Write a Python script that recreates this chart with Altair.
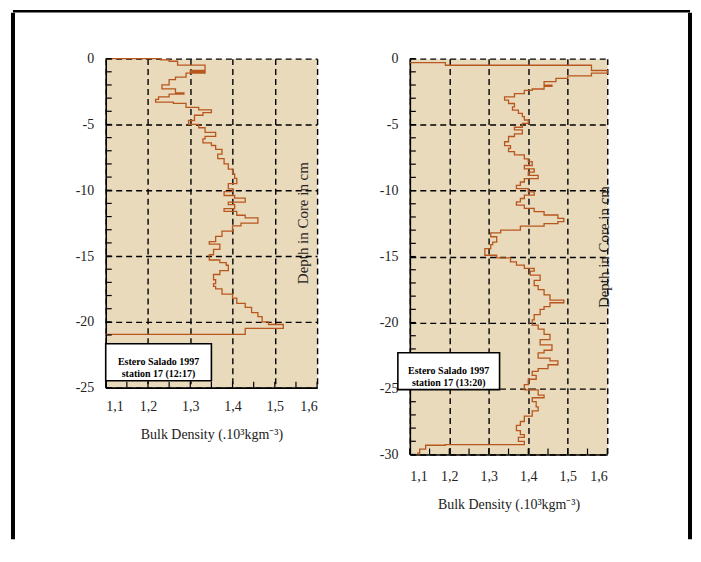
import altair as alt
import pandas as pd

# ---------------- data ----------------
# Left core: Estero Salado 1997, station 17 (12:17)
left_depth = [0.0, -0.1, -0.2, -0.5, -0.9, -1.0, -1.1, -1.4, -1.6, -2.0,
              -2.3, -2.6, -2.7, -2.9, -3.1, -3.3, -3.4, -3.7, -3.9, -4.1,
              -4.3, -4.7, -5.0, -5.25, -5.6, -5.9, -6.1, -6.4, -6.6, -6.9,
              -7.25, -7.6, -8.0, -8.4, -8.75, -9.1, -9.5, -9.9, -10.1, -10.4,
              -10.6, -10.9, -11.1, -11.4, -11.6, -11.9, -12.1, -12.5, -12.7, -13.1,
              -13.5, -13.9, -14.1, -14.5, -14.9, -15.3, -15.5, -15.7, -16.1, -16.4,
              -16.8, -17.1, -17.3, -17.5, -17.9, -18.2, -18.6, -18.9, -19.3, -19.6,
              -20.0, -20.2, -20.5, -20.95, -21.0]
left_density = [1.10, 1.23, 1.25, 1.27, 1.335, 1.30, 1.335, 1.29, 1.265, 1.25,
                1.233, 1.265, 1.285, 1.25, 1.225, 1.218, 1.26, 1.29, 1.32, 1.35,
                1.33, 1.31, 1.296, 1.32, 1.335, 1.36, 1.335, 1.33, 1.35, 1.36,
                1.375, 1.365, 1.38, 1.39, 1.40, 1.405, 1.41, 1.39, 1.40, 1.38,
                1.405, 1.43, 1.39, 1.405, 1.38, 1.41, 1.43, 1.46, 1.42, 1.40,
                1.375, 1.36, 1.345, 1.37, 1.355, 1.345, 1.37, 1.385, 1.39, 1.37,
                1.355, 1.36, 1.355, 1.36, 1.375, 1.40, 1.41, 1.43, 1.445, 1.46,
                1.47, 1.485, 1.52, 1.43, 1.10]

# Right core: Estero Salado 1997, station 17 (13:20)
right_depth = [-0.3, -0.5, -0.9, -1.1, -1.3, -1.5, -1.75, -2.0, -2.1, -2.3,
               -2.4, -2.65, -2.9, -3.15, -3.4, -3.65, -3.9, -4.15, -4.4, -4.65,
               -4.9, -5.2, -5.4, -5.7, -5.9, -6.3, -6.6, -6.8, -7.05, -7.3,
               -7.6, -7.8, -8.1, -8.35, -8.6, -8.85, -9.1, -9.35, -9.6, -9.85,
               -10.1, -10.35, -10.6, -10.85, -11.1, -11.35, -11.6, -11.85, -12.1, -12.35,
               -12.5, -12.7, -13.0, -13.2, -13.5, -13.9, -14.1, -14.4, -14.6, -14.9,
               -15.1, -15.4, -15.65, -15.9, -16.1, -16.4, -16.8, -17.2, -17.5, -17.9,
               -18.3, -18.5, -18.8, -19.0, -19.4, -19.8, -20.2, -20.5, -20.9, -21.3,
               -21.7, -22.1, -22.3, -22.7, -22.9, -23.2, -23.5, -23.7, -24.0, -24.3,
               -24.7, -25.1, -25.5, -25.7, -26.0, -26.4, -26.7, -27.1, -27.5, -27.8,
               -28.2, -28.5, -28.7, -29.0, -29.25, -29.3, -29.6, -29.9, -30.0]
right_density = [1.10, 1.19, 1.56, 1.60, 1.56, 1.50, 1.47, 1.44, 1.46, 1.44,
                 1.41, 1.39, 1.365, 1.34, 1.35, 1.365, 1.36, 1.375, 1.385, 1.39,
                 1.40, 1.385, 1.365, 1.385, 1.365, 1.35, 1.34, 1.355, 1.35, 1.365,
                 1.39, 1.40, 1.41, 1.39, 1.415, 1.40, 1.425, 1.39, 1.38, 1.37,
                 1.40, 1.415, 1.39, 1.38, 1.37, 1.39, 1.415, 1.44, 1.475, 1.49,
                 1.475, 1.44, 1.38, 1.33, 1.305, 1.32, 1.31, 1.305, 1.29, 1.29,
                 1.32, 1.355, 1.37, 1.39, 1.415, 1.405, 1.43, 1.415, 1.425, 1.44,
                 1.455, 1.49, 1.455, 1.44, 1.43, 1.415, 1.41, 1.425, 1.44, 1.455,
                 1.43, 1.46, 1.44, 1.425, 1.455, 1.475, 1.45, 1.425, 1.41, 1.42,
                 1.40, 1.39, 1.425, 1.44, 1.41, 1.42, 1.425, 1.41, 1.39, 1.38,
                 1.37, 1.38, 1.39, 1.375, 1.39, 1.19, 1.14, 1.125, 1.12]

x_tick_labels = [1.1, 1.2, 1.3, 1.4, 1.5, 1.6]
x_minor_ticks = [1.1, 1.15, 1.2, 1.25, 1.3, 1.35, 1.4, 1.45, 1.5, 1.55, 1.6]
left_y_labels = [0, -5, -10, -15, -20, -25]
right_y_labels = [0, -5, -10, -15, -20, -25, -30]
left_y_minor = [0, -1, -2, -3, -4, -5, -6, -7, -8, -9, -10, -11, -12, -13, -14,
                -15, -16, -17, -18, -19, -20, -21, -22, -23, -24, -25]
right_y_minor = left_y_minor + [-26, -27, -28, -29, -30]

legend_left = "Estero Salado 1997\nstation 17 (12:17)"
legend_right = "Estero Salado 1997\nstation 17 (13:20)"
x_title = "Bulk Density (.10³kgm⁻³)"
y_title = "Depth in Core in cm"

FONT = "Liberation Serif"
LINE = "#B8561F"
TXT = "#222222"


def panel(depth, dens, y_labels, y_minor, w, h, legend, box, depth_pos,
          lab_pad, title_pad, extra=None):
    df = pd.DataFrame({"depth": depth, "density": dens, "i": list(range(len(depth)))})
    xs = alt.Scale(domain=[1.1, 1.6], nice=False, zero=False)
    ys = alt.Scale(domain=[y_labels[-1], 0], nice=False, zero=False)
    common = dict(grid=True, gridColor="black", gridDash=[6, 4], gridWidth=1.4,
                  ticks=False, domainColor="black", domainWidth=1.6,
                  labelFont=FONT, labelFontSize=14, labelColor=TXT)
    x_axis = alt.Axis(values=x_tick_labels, title=x_title,
                      labelExpr="replace(format(datum.value, '.1f'), '.', ',')",
                      labelPadding=lab_pad, titlePadding=title_pad,
                      titleFont=FONT, titleFontSize=14, titleFontWeight="normal",
                      titleColor=TXT, **common)
    y_axis = alt.Axis(values=y_labels, title=None, labelPadding=12,
                      labelExpr="datum.value == 0 ? '0' : '-' + abs(datum.value)",
                      **common)
    line = alt.Chart(df).mark_line(color=LINE, strokeWidth=1.3,
                                   interpolate="step-after").encode(
        x=alt.X("density:Q", scale=xs, axis=x_axis),
        y=alt.Y("depth:Q", scale=ys, axis=y_axis),
        order="i:Q",
    )
    xt = alt.Chart(pd.DataFrame({"density": x_minor_ticks})).mark_rule(
        color="black", strokeWidth=1.2).encode(
        x=alt.X("density:Q", scale=xs, axis=x_axis), y=alt.value(h), y2=alt.value(h - 6))
    yt = alt.Chart(pd.DataFrame({"depth": y_minor})).mark_rule(
        color="black", strokeWidth=1.2).encode(
        y=alt.Y("depth:Q", scale=ys, axis=y_axis), x=alt.value(0), x2=alt.value(6))
    one = pd.DataFrame({"t": [legend]})
    bx1, bx2, by1, by2 = box
    rect = alt.Chart(one).mark_rect(fill="white", stroke="black", strokeWidth=1.6).encode(
        x=alt.value(bx1), x2=alt.value(bx2), y=alt.value(by1), y2=alt.value(by2))
    txt = alt.Chart(one).mark_text(font=FONT, fontSize=10, fontWeight="bold",
                                   lineBreak="\n", lineHeight=12, align="center",
                                   baseline="middle", color="black").encode(
        x=alt.value((bx1 + bx2) / 2), y=alt.value((by1 + by2) / 2), text="t:N")
    dl = alt.Chart(pd.DataFrame({"t": [y_title]})).mark_text(
        font=FONT, fontSize=15, angle=270, align="center", baseline="middle",
        color=TXT).encode(x=alt.value(depth_pos[0]), y=alt.value(depth_pos[1]), text="t:N")
    layers = [line, xt, yt, rect, txt, dl]
    if extra:
        layers += extra
    return alt.layer(*layers).properties(width=w, height=h)


# page frame (decoration), drawn relative to the left panel origin
fr = pd.DataFrame({"k": [0]})
frame = [
    alt.Chart(fr).mark_rule(color="black", strokeWidth=2.5).encode(
        x=alt.value(-93), x2=alt.value(586), y=alt.value(-47.5), y2=alt.value(-47.5)),
    alt.Chart(fr).mark_rule(color="black", strokeWidth=4).encode(
        x=alt.value(-93), x2=alt.value(-93), y=alt.value(-46), y2=alt.value(482)),
    alt.Chart(fr).mark_rule(color="black", strokeWidth=4).encode(
        x=alt.value(586), x2=alt.value(586), y=alt.value(-46), y2=alt.value(482)),
]

left = panel(left_depth, left_density, left_y_labels, left_y_minor, 212, 330,
             legend_left, (0, 106, 286, 323), (198, 165), 12, 14, extra=frame)
right = panel(right_depth, right_density, right_y_labels, right_y_minor, 198, 397,
              legend_right, (-12, 90, 295, 332), (195, 189), 15, 14)

chart = alt.hconcat(left, right, spacing=93, bounds="flush").properties(
    padding={"left": 2, "top": 0, "right": 0, "bottom": 0},
    background="white",
).configure_view(fill="#E8DABB", stroke="transparent")

chart.save("out.html", embed_options={"renderer": "svg", "actions": False})
